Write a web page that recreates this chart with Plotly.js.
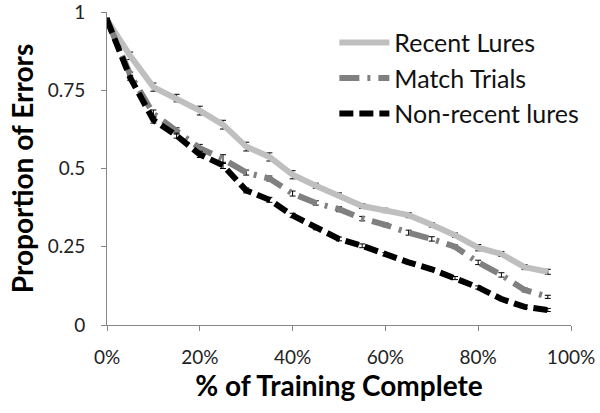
<!DOCTYPE html>
<html>
<head>
<meta charset="utf-8">
<script src="https://cdn.plot.ly/plotly-3.0.1.min.js"></script>
<style>
  html, body { margin: 0; padding: 0; background: #fff; }
  #chart { width: 600px; height: 413px; }
</style>
</head>
<body>
<div id="chart"></div>
<script>
const trainingPct = [0, 5, 10, 15, 20, 25, 30, 35, 40, 45, 50, 55, 60, 65, 70, 75, 80, 85, 90, 95];

const recentLures = [0.975, 0.86, 0.76, 0.725, 0.685, 0.64, 0.57, 0.537, 0.48, 0.445,
  0.415, 0.38, 0.366, 0.351, 0.32, 0.287, 0.247, 0.227, 0.185, 0.17];
const recentErr = [0.005, 0.012, 0.013, 0.012, 0.014, 0.014, 0.014, 0.013, 0.013, 0.008,
  0.007, 0.008, 0.007, 0.008, 0.007, 0.007, 0.01, 0.008, 0.008, 0.008];

const matchTrials = [0.975, 0.8, 0.675, 0.62, 0.565, 0.53, 0.487, 0.468, 0.42, 0.39,
  0.37, 0.34, 0.32, 0.295, 0.275, 0.25, 0.2, 0.16, 0.112, 0.09];
const matchErr = [0.005, 0.008, 0.012, 0.01, 0.012, 0.014, 0.008, 0.008, 0.008, 0.007,
  0.008, 0.007, 0.006, 0.008, 0.007, 0.006, 0.007, 0.007, 0.006, 0.005];

const nonRecentLures = [0.975, 0.79, 0.655, 0.605, 0.545, 0.51, 0.43, 0.4, 0.35, 0.31,
  0.275, 0.253, 0.226, 0.2, 0.178, 0.15, 0.12, 0.083, 0.058, 0.048];
const nonRecentErr = [0.005, 0.008, 0.01, 0.008, 0.01, 0.01, 0.008, 0.008, 0.007, 0.006,
  0.006, 0.006, 0.005, 0.005, 0.005, 0.005, 0.005, 0.005, 0.005, 0.005];

const xTicks = [0, 20, 40, 60, 80, 100];
const yTicks = [0, 0.25, 0.5, 0.75, 1];
const yTickText = ["0", "0.25", "0.5", "0.75", "1"];

const axisColor = "#868686";
const fontFamily = "Lato, 'Open Sans', sans-serif";

function errorBars(values) {
  return { type: "data", array: values, visible: true, color: "#000", thickness: 1, width: 3 };
}

const traces = [
  {
    x: trainingPct,
    y: recentLures,
    error_y: errorBars(recentErr),
    type: "scatter",
    mode: "lines",
    name: "Recent Lures",
    legendgroup: "a",
    line: { color: "#bfbfbf", width: 6 },
  },
  {
    x: trainingPct,
    y: matchTrials,
    error_y: errorBars(matchErr),
    type: "scatter",
    mode: "lines",
    name: "Match Trials",
    legendgroup: "b",
    line: { color: "#808080", width: 6, dash: "20px,8px,3px,8px" },
  },
  {
    x: trainingPct,
    y: nonRecentLures,
    error_y: errorBars(nonRecentErr),
    type: "scatter",
    mode: "lines",
    name: "Non-recent lures",
    legendgroup: "c",
    line: { color: "#000", width: 6, dash: "14px,6px" },
  },
];

const layout = {
  width: 600,
  height: 413,
  paper_bgcolor: "#fff",
  plot_bgcolor: "#fff",
  font: { family: fontFamily, color: "#222", size: 19 },
  margin: { l: 107, r: 29, t: 12, b: 88 },
  showlegend: true,
  legend: {
    x: 0.49,
    y: 0.975,
    xanchor: "left",
    yanchor: "top",
    font: { size: 25, color: "#111" },
    bgcolor: "rgba(0,0,0,0)",
    traceorder: "grouped",
    tracegroupgap: 0,
    itemwidth: 50,
  },
  xaxis: {
    range: [0, 100],
    tickvals: xTicks,
    ticktext: xTicks.map((v) => `${v}%`),
    showgrid: false,
    zeroline: false,
    showline: true,
    linecolor: axisColor,
    linewidth: 1,
    ticks: "outside",
    ticklen: 5,
    tickcolor: axisColor,
    ticklabelstandoff: 10,
    ticklabeloverflow: "allow",
    title: {
      text: "<b>% of Training Complete</b>",
      font: { size: 28, color: "#000" },
      standoff: 3,
    },
  },
  yaxis: {
    range: [0, 1],
    tickvals: yTicks,
    ticktext: yTickText,
    showgrid: false,
    zeroline: false,
    showline: true,
    linecolor: axisColor,
    linewidth: 1,
    ticks: "outside",
    ticklen: 5,
    tickcolor: axisColor,
    ticklabelstandoff: 12,
    ticklabeloverflow: "allow",
    title: {
      text: "<b>Proportion of Errors</b>",
      font: { size: 28, color: "#000" },
      standoff: 5,
    },
  },
};

Plotly.newPlot("chart", traces, layout, { displayModeBar: false, staticPlot: true });
</script>
</body>
</html>
